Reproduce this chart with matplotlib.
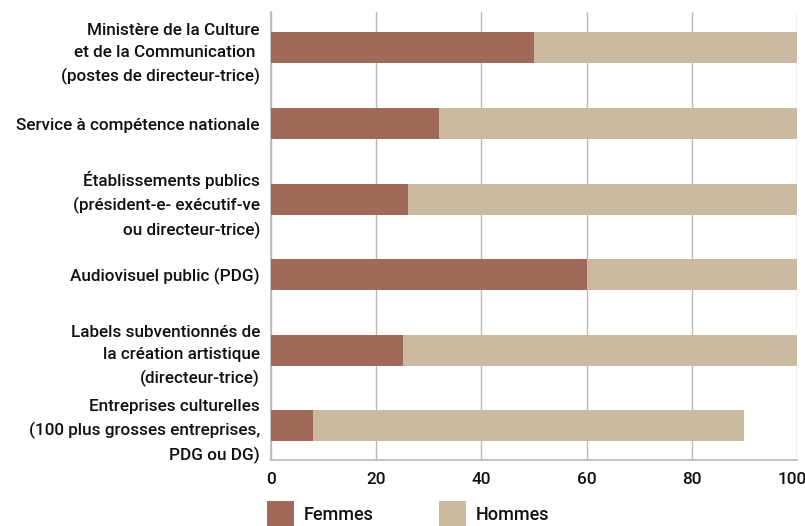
import numpy as np
import matplotlib.pyplot as plt
import matplotlib.transforms as mtransforms

plt.rcParams['font.family'] = ['Roboto', 'DejaVu Sans']

categories = [
    "Ministère de la Culture\net de la Communication \n(postes de directeur-trice)",
    "Service à compétence nationale",
    "Établissements publics\n(président-e- exécutif-ve\nou directeur-trice)",
    "Audiovisuel public (PDG)",
    "Labels subventionnés de\nla création artistique\n(directeur-trice)",
    "Entreprises culturelles\n(100 plus grosses entreprises,\nPDG ou DG)",
]
femmes = [50, 32, 26, 60, 25, 8]
hommes = [50, 68, 74, 40, 75, 82]
xticks = [0, 20, 40, 60, 80, 100]

c_f = '#a0695a'
c_h = '#cbbaa0'
grid_c = '#b8b8b8'

fig = plt.figure(figsize=(8.05, 5.26), dpi=100)
ax = fig.add_axes([271 / 805, 1 - 460 / 526, 526 / 805, 448 / 526])

y = np.arange(len(categories))
ax.barh(y, femmes, height=0.41, color=c_f, label='Femmes', zorder=3)
ax.barh(y, hommes, left=femmes, height=0.41, color=c_h, label='Hommes', zorder=3)

ax.set_xlim(0, 100)
ax.set_ylim(5.45, -0.476)
ax.set_xticks(xticks)
ax.set_yticks(y)
ax.set_yticklabels(categories, fontsize=12.3, linespacing=1.6, fontweight='medium',
                   color='#111111')
ax.tick_params(axis='x', length=0, pad=9, labelsize=12.4, labelcolor='#111111')
for t in ax.get_xticklabels():
    t.set_fontweight('medium')
# the last label sits at the figure edge, nudge it in a bit
last = ax.get_xticklabels()[-1]
last.set_transform(last.get_transform() +
                   mtransforms.ScaledTranslation(-5 / 100, 0, fig.dpi_scale_trans))
ax.tick_params(axis='y', length=0, pad=8)
ax.xaxis.grid(True, color=grid_c, linewidth=1, zorder=0)

for s in ['top', 'right']:
    ax.spines[s].set_visible(False)
for s in ['left', 'bottom']:
    ax.spines[s].set_color(grid_c)
    ax.spines[s].set_linewidth(1.2)

leg = fig.legend(loc='upper left', bbox_to_anchor=(267 / 805, 1 - 501 / 526), ncol=2,
                 frameon=False, fontsize=13, handlelength=1.5, handleheight=1.8,
                 handletextpad=0.55, columnspacing=3.6, borderpad=0, borderaxespad=0)
for t in leg.get_texts():
    t.set_fontweight('medium')
    t.set_color('#111111')

fig.savefig('out.png', dpi=100)
